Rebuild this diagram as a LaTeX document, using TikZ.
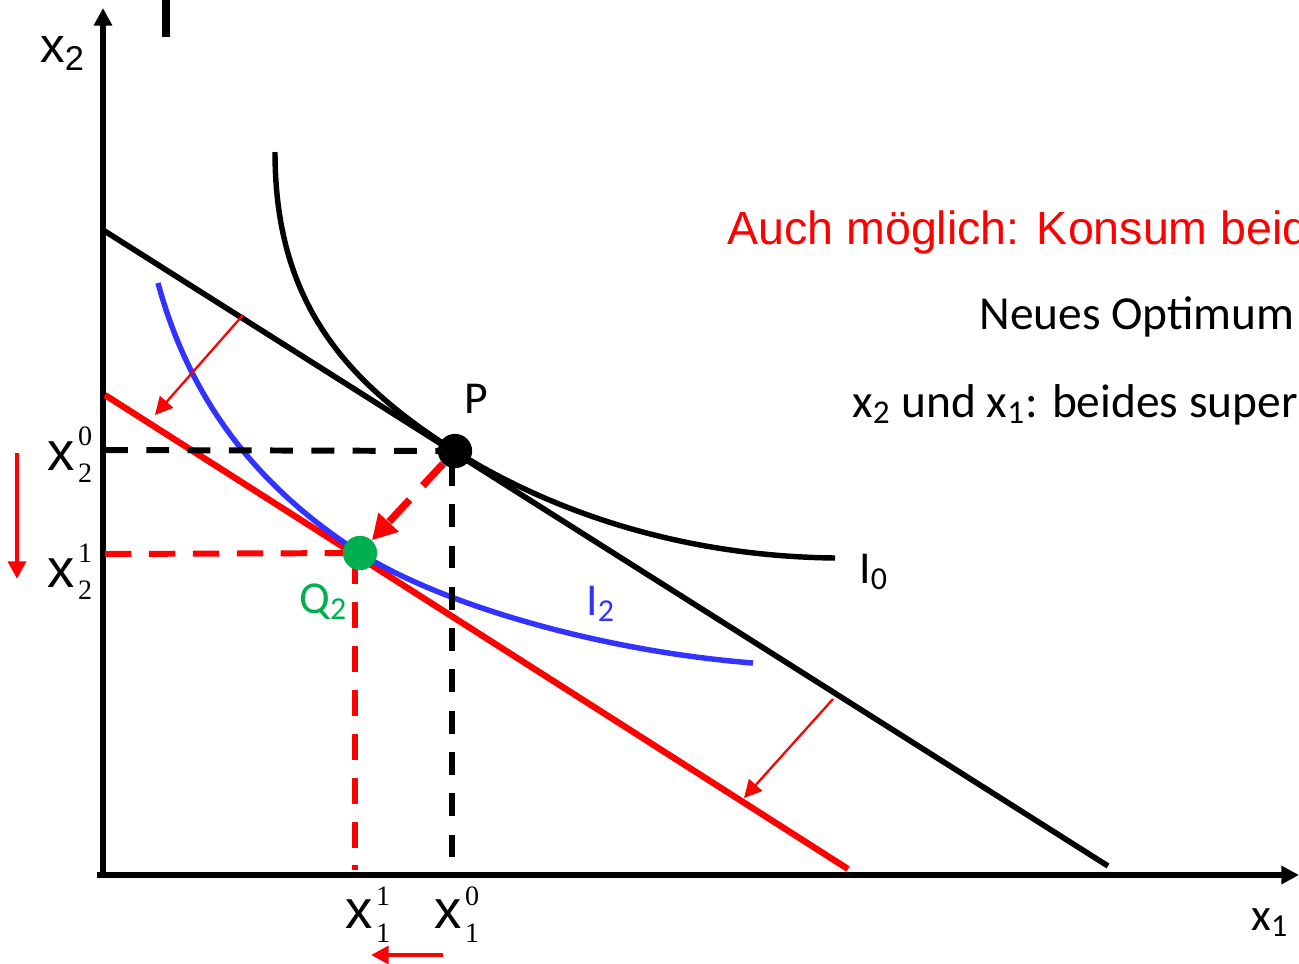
\documentclass[tikz,border=0pt]{standalone}
\usepackage{fontspec}
\setmainfont{Carlito}
\newfontfamily\arialf{Liberation Sans}
\newfontfamily\timesf{Liberation Serif}
\usetikzlibrary{arrows.meta}
\definecolor{myred}{RGB}{255,0,0}
\definecolor{myblue}{RGB}{51,51,255}
\definecolor{mygreen}{RGB}{0,176,80}
\newcommand{\xlab}[4]{{\arialf\fontsize{31}{31}\selectfont x}\hspace{2pt}\rlap{\raisebox{#3}{\timesf\fontsize{16}{16}\selectfont #1}}\raisebox{-#4}{\timesf\fontsize{16}{16}\selectfont #2}}
\tikzset{
  lbl/.style={inner sep=0pt, anchor=base west, font=\fontsize{26}{26}\selectfont},
  axisline/.style={line width=3.6pt, -{Triangle[length=10pt,width=10pt]}},
  budget/.style={line width=3.2pt},
  curve/.style={line width=3.1pt},
  blackdash/.style={line width=3.4pt, dash pattern=on 13pt off 10.5pt},
  reddash/.style={line width=3.4pt, myred, dash pattern=on 15pt off 10pt},
  thinarrow/.style={myred, line width=1.3pt, -{Triangle[length=10pt,width=10pt]}},
  shiftarrow/.style={myred, line width=2.6pt, -{Triangle[length=10pt,width=10pt]}},
  dot/.style={circle, inner sep=0pt, minimum size=19.5pt},
}
\begin{document}
\begin{tikzpicture}[x=0.02cm,y=-0.02cm]
\clip (0,0) rectangle (1299,964);
\useasboundingbox (0,0) rectangle (1299,964);

% axes
\coordinate (origin) at (103,872);
\coordinate (ytip) at (103,8);
\coordinate (xstart) at (97,875);
\coordinate (xtip) at (1299,875);
\draw[axisline] (origin) -- (ytip);
\draw[axisline] (xstart) -- (xtip);
% black bar at top
\coordinate (barA) at (166,0);
\coordinate (barB) at (166,37);
\draw[line width=4.6pt] (barA) -- (barB);

\node[lbl, font=\arialf\fontsize{28}{28}\selectfont] (x2ax) at (40,62) {x\textsubscript{2}};
\node[lbl] (x1ax) at (1251,930) {x\textsubscript{1}};

% budget lines
\coordinate (b0a) at (103,230);
\coordinate (b0b) at (1108,866);
\coordinate (b1a) at (105,395);
\coordinate (b1b) at (848,869);
\draw[budget] (b0a) -- (b0b);
\draw[budget, myred, line width=3.6pt] (b1a) -- (b1b);

% points
\node[dot] (P) at (455,451) {};
\node[dot] (Q) at (360,553) {};

% indifference curves
\coordinate (i0a) at (275,152);
\coordinate (i0b) at (835,558);
\draw[curve] (i0a) .. controls (275,302) and (345,381.4) .. (P.center)
  .. controls (525,495.3) and (655,556) .. (i0b);
\coordinate (i2a) at (158,283);
\coordinate (i2b) at (753,663);
\draw[curve, myblue] (i2a) .. controls (190.4,403) and (260,489) .. (Q.center)
  .. controls (440,604) and (600,651) .. (i2b);

% dashed guides
\coordinate (y0) at (105,450);
\coordinate (x0) at (452,875);
\coordinate (y1) at (105,554);
\coordinate (x1) at (355,870);
\draw[blackdash] (y0) -- (P.center);
\draw[blackdash] (P.center) ++(-3,12) -- (x0);
\draw[reddash] (y1) -- (Q.center);
\draw[reddash] (Q.center) ++(-5,5) -- (x1);
\node[dot, fill=black] at (P) {};
\node[dot, fill=mygreen] at (Q) {};

% P -> Q dashed arrow
\draw[myred, line width=4.2pt, dash pattern=on 17pt off 11pt, -{Triangle[length=14pt,width=15pt]}] (P) -- (Q);

% shift arrows
\coordinate (s1a) at (243,315);
\coordinate (s1b) at (155,415);
\coordinate (s2a) at (833,699);
\coordinate (s2b) at (744,798);
\draw[thinarrow] (s1a) -- (s1b);
\draw[thinarrow] (s2a) -- (s2b);

\coordinate (d1a) at (17,453);
\coordinate (d1b) at (17,579);
\coordinate (d2a) at (443,955);
\coordinate (d2b) at (371,955);
\draw[shiftarrow] (d1a) -- (d1b);
\draw[shiftarrow] (d2a) -- (d2b);

% labels
\node[lbl] (Plab) at (464,413) {P};
\node[lbl, text=mygreen] (Qlab) at (299,613) {Q\textsubscript{2}};
\node[lbl] (I0lab) at (859,583) {I\textsubscript{0}};
\node[lbl, text=myblue] (I2lab) at (586,615) {I\textsubscript{2}};

\node[lbl] (x20) at (47,470) {\xlab{0}{2}{14pt}{7pt}};
\node[lbl] (x21) at (47,587) {\xlab{1}{2}{14pt}{7pt}};
\node[lbl] (x11) at (345,928) {\xlab{1}{1}{13pt}{8pt}};
\node[lbl] (x10) at (434,928) {\xlab{0}{1}{13pt}{8pt}};

% texts
\node[lbl, text=myred, font=\arialf\fontsize{26.5}{26.5}\selectfont] (t1) at (727,244) {Auch möglich: Konsum beid};
\node[lbl, font=\fontsize{27}{27}\selectfont] (t2) at (979,329) {Neues Optimum};
\node[lbl, font=\fontsize{27}{27}\selectfont] (t3) at (852,417) {x\textsubscript{2} und x\textsubscript{1}: beides super};
\end{tikzpicture}
\end{document}
